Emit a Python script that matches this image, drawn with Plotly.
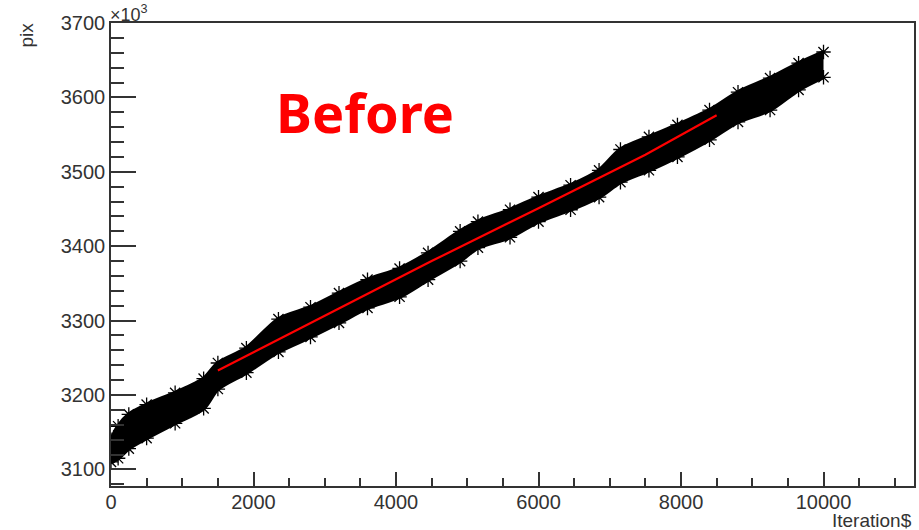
import plotly.graph_objects as go

# Iteration samples along the band of points
iters = [0, 100, 250, 500, 900, 1300, 1500, 1900, 2350, 2800, 3200, 3600, 4050,
         4450, 4900, 5150, 5600, 6000, 6450, 6850, 7150, 7550, 7950, 8400,
         8800, 9250, 9650, 10000]
# lower and upper edges of the scatter band (pix, x10^3)
band_low = [3110, 3115, 3128, 3142, 3162, 3182, 3208, 3230, 3258, 3278, 3297, 3317, 3332,
            3355, 3380, 3398, 3412, 3433, 3449, 3466, 3486, 3502, 3520, 3543,
            3567, 3583, 3610, 3627]
band_high = [3140, 3158, 3174, 3187, 3203, 3222, 3243, 3263, 3302, 3318, 3337, 3355, 3370,
             3391, 3420, 3433, 3449, 3466, 3482, 3502, 3530, 3547, 3563, 3583,
             3607, 3626, 3646, 3661]

# red line through the data
fit_x = [1500, 3000, 4500, 6000, 7500, 8500]
fit_y = [3233, 3306, 3380, 3451, 3523, 3576]

x_ticks = [0, 2000, 4000, 6000, 8000, 10000]
y_ticks = [3100, 3200, 3300, 3400, 3500, 3600, 3700]

fig = go.Figure()
fig.add_trace(go.Scatter(x=iters, y=band_low, mode="lines",
                         line=dict(color="black", width=4, shape="spline", smoothing=0.8),
                         showlegend=False, hoverinfo="skip"))
fig.add_trace(go.Scatter(x=iters, y=band_high, mode="lines", fill="tonexty",
                         fillcolor="black",
                         line=dict(color="black", width=4, shape="spline", smoothing=0.8),
                         showlegend=False, hoverinfo="skip"))
for arr in (band_low, band_high):
    fig.add_trace(go.Scatter(x=iters, y=arr, mode="markers",
                             marker=dict(symbol="asterisk-open", size=12, color="black",
                                         line=dict(color="black", width=1.3)),
                             showlegend=False, hoverinfo="skip"))
fig.add_trace(go.Scatter(x=fit_x, y=fit_y, mode="lines",
                         line=dict(color="#ff0000", width=2.2), showlegend=False))

axis_font = dict(family="Liberation Sans, Arial, sans-serif", size=20, color="#333333")
fig.update_layout(
    width=919, height=530,
    margin=dict(l=111, r=3, t=23, b=44),
    paper_bgcolor="white", plot_bgcolor="white",
    xaxis=dict(range=[0, 11270], tickvals=x_ticks, ticktext=[str(v) for v in x_ticks],
               ticks="inside", ticklen=14, tickwidth=1.5, tickcolor="#333333",
               minor=dict(dtick=500, tick0=0, ticks="inside", ticklen=8, tickwidth=1.5,
                          tickcolor="#333333", showgrid=False),
               showline=True, linecolor="#333333", linewidth=1.5, mirror=True,
               showgrid=False, zeroline=False, tickfont=axis_font, ticklabelstandoff=-3),
    yaxis=dict(range=[3077.7, 3700], tickvals=y_ticks, ticktext=[str(v) for v in y_ticks],
               ticks="inside", ticklen=25, tickwidth=1.5, tickcolor="#333333",
               minor=dict(dtick=20, tick0=3100, ticks="inside", ticklen=13, tickwidth=1.5,
                          tickcolor="#333333", showgrid=False),
               showline=True, linecolor="#333333", linewidth=1.5, mirror=True,
               showgrid=False, zeroline=False, tickfont=axis_font),
)

fig.add_annotation(text="\u00d710<sup>3</sup>", xref="paper", yref="paper", x=0, y=1,
                   xanchor="left", yanchor="bottom", xshift=-3, yshift=-4, showarrow=False,
                   font=dict(family="Liberation Sans, Arial, sans-serif", size=18, color="#333333"))
fig.add_annotation(text="pix", xref="paper", yref="paper", x=0, y=1, xanchor="center",
                   yanchor="top", xshift=-85, yshift=2, textangle=-90, showarrow=False,
                   font=dict(family="Liberation Sans, Arial, sans-serif", size=19, color="#333333"))
fig.add_annotation(text="Iteration$", xref="paper", yref="paper", x=1, y=0, xanchor="right",
                   yanchor="top", yshift=-22, showarrow=False,
                   font=dict(family="Liberation Sans, Arial, sans-serif", size=19, color="#333333"))
fig.add_annotation(text="<b>Before</b>", xref="paper", yref="paper",
                   x=(366 - 111) / 805, y=1 - (112 - 23) / 463, xanchor="center", yanchor="middle",
                   showarrow=False,
                   font=dict(family="Noto Sans, sans-serif", size=54, color="#ff0000"))

fig.write_html("out.html")
